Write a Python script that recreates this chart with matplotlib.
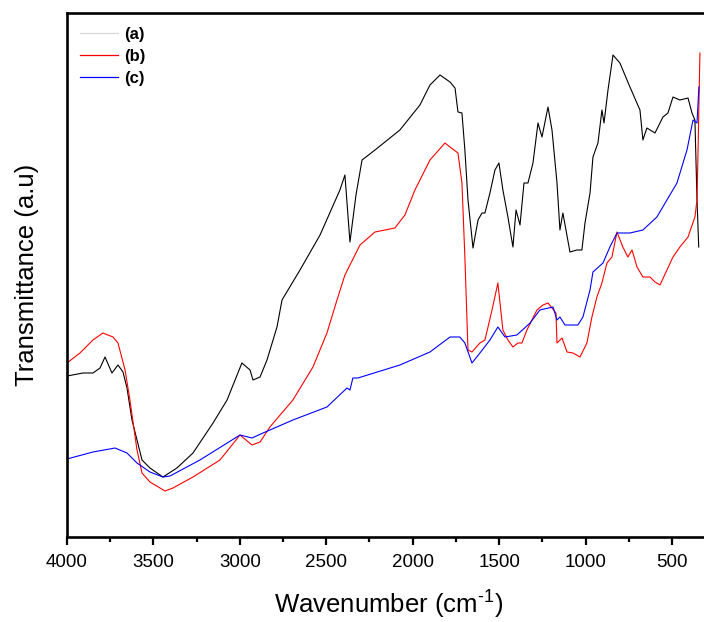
import matplotlib
matplotlib.use("Agg")
import matplotlib.pyplot as plt
from matplotlib.lines import Line2D
from matplotlib.ticker import MultipleLocator

plt.rcParams['font.family'] = ['Liberation Sans', 'DejaVu Sans']
plt.rcParams['mathtext.fontset'] = 'custom'
plt.rcParams['mathtext.rm'] = 'Liberation Sans'
plt.rcParams['mathtext.it'] = 'Liberation Sans'

# Sample (a)
wn_a = [4000, 3907, 3850, 3809, 3780, 3740, 3705, 3676, 3653, 3624, 3566, 3520, 3445, 3364,
        3271, 3155, 3074, 2988, 2941, 2924, 2883, 2843, 2785, 2756, 2652, 2536, 2421, 2392,
        2363, 2328, 2293, 2218, 2074, 1958, 1900, 1842, 1784, 1755, 1738, 1715, 1698, 1680,
        1651, 1622, 1599, 1582, 1553, 1524, 1501, 1478, 1449, 1420, 1402, 1379, 1356, 1333,
        1304, 1275, 1252, 1217, 1194, 1165, 1148, 1131, 1090, 1050, 1021, 1003, 974, 957,
        928, 905, 893, 870, 841, 801, 743, 685, 668, 645, 598, 552, 523, 494, 454, 407,
        384, 367, 355, 345]
t_a = [161, 164, 164, 169, 180, 164, 172, 165, 149, 117, 77, 69, 60, 69,
       84, 114, 137, 174, 167, 157, 160, 177, 210, 237, 267, 302, 347, 362,
       295, 342, 377, 387, 407, 432, 452, 462, 455, 449, 425, 424, 387, 337,
       289, 317, 324, 324, 344, 367, 374, 347, 320, 290, 327, 312, 354, 354,
       374, 414, 400, 430, 407, 354, 307, 324, 285, 287, 287, 314, 344, 380,
       394, 427, 414, 447, 482, 474, 450, 427, 397, 409, 404, 420, 424, 440, 437, 439,
       424, 417, 337, 290]

# Sample (b)
wn_b = [4000, 3925, 3850, 3792, 3734, 3705, 3664, 3636, 3595, 3566, 3520, 3433, 3387, 3271,
        3115, 2999, 2930, 2883, 2826, 2693, 2577, 2496, 2438, 2392, 2305, 2218, 2103, 2045,
        1987, 1900, 1813, 1784, 1738, 1715, 1698, 1680, 1657, 1611, 1582, 1541, 1507, 1478,
        1449, 1420, 1391, 1368, 1339, 1281, 1246, 1217, 1194, 1171, 1165, 1136, 1107, 1073,
        1032, 992, 963, 934, 905, 876, 847, 818, 784, 755, 731, 702, 668, 627, 598, 569,
        529, 494, 454, 407, 367, 355, 350, 338]
t_b = [174, 184, 197, 204, 200, 194, 167, 137, 87, 64, 55, 46, 49, 60,
       77, 102, 92, 95, 110, 137, 170, 204, 237, 262, 292, 305, 309, 322,
       347, 377, 394, 390, 384, 354, 280, 187, 185, 194, 197, 227, 254, 207,
       197, 190, 194, 194, 207, 227, 232, 234, 229, 224, 194, 199, 185, 184,
       180, 194, 220, 240, 254, 274, 280, 305, 290, 280, 287, 270, 260, 260, 255, 252,
       267, 280, 290, 300, 320, 337, 377, 484]

# Sample (c)
wn_c = [4000, 3850, 3722, 3653, 3595, 3520, 3445, 3404, 3231, 2999, 2930, 2866, 2693, 2496,
        2380, 2363, 2346, 2317, 2074, 1900, 1784, 1727, 1698, 1657, 1611, 1553, 1507, 1466,
        1397, 1321, 1264, 1188, 1165, 1148, 1119, 1044, 1015, 974, 957, 899, 859, 818,
        743, 668, 587, 529, 471, 413, 378, 355, 344]
t_c = [78, 85, 89, 84, 74, 65, 60, 61, 77, 102, 99, 104, 117, 130,
       149, 147, 159, 159, 172, 185, 200, 200, 194, 174, 184, 197, 210, 200,
       202, 214, 227, 230, 217, 220, 212, 212, 220, 247, 265, 274, 290, 304,
       304, 307, 320, 337, 354, 387, 417, 414, 450]

labels = ['(a)', '(b)', '(c)']
xticks = [4000, 3500, 3000, 2500, 2000, 1500, 1000, 500]

fig = plt.figure(figsize=(7.04, 6.22), dpi=100)
ax = fig.add_axes([67/704, 85/622, (711-67)/704, 524/622])

ax.plot(wn_a, t_a, color='black', lw=0.8)
ax.plot(wn_b, t_b, color='red', lw=0.8)
ax.plot(wn_c, t_c, color='blue', lw=0.8)

ax.set_xlim(4000, 274)
ax.set_ylim(0, 524)
ax.set_xticks(xticks)
ax.set_xticklabels([str(v) for v in xticks])
ax.xaxis.set_minor_locator(MultipleLocator(250))
ax.set_yticks([])
ax.tick_params(axis='x', which='major', direction='out', length=6, width=1.6, labelsize=13.5, pad=6)
ax.tick_params(axis='x', which='minor', direction='out', length=3.5, width=1.6)
for s in ['left', 'bottom', 'top']:
    ax.spines[s].set_linewidth(1.9)
ax.spines['right'].set_visible(False)

ax.set_xlabel('Wavenumber (cm$^{\u20101}$)', fontsize=18.5, labelpad=13)
ax.set_ylabel('Transmittance (a.u)', fontsize=18.5, labelpad=20)

handles = [Line2D([], [], color='#d8d8d8', lw=0.9),
           Line2D([], [], color='red', lw=0.9),
           Line2D([], [], color='blue', lw=0.9)]
leg = ax.legend(handles, labels, loc='upper left', frameon=False,
                prop={'weight': 'bold', 'size': 12}, handlelength=2.3,
                borderaxespad=0, borderpad=0, labelspacing=0.42, handletextpad=0.36,
                bbox_to_anchor=(13/644, 1 - 14/524))

fig.savefig('out.png', dpi=100)
